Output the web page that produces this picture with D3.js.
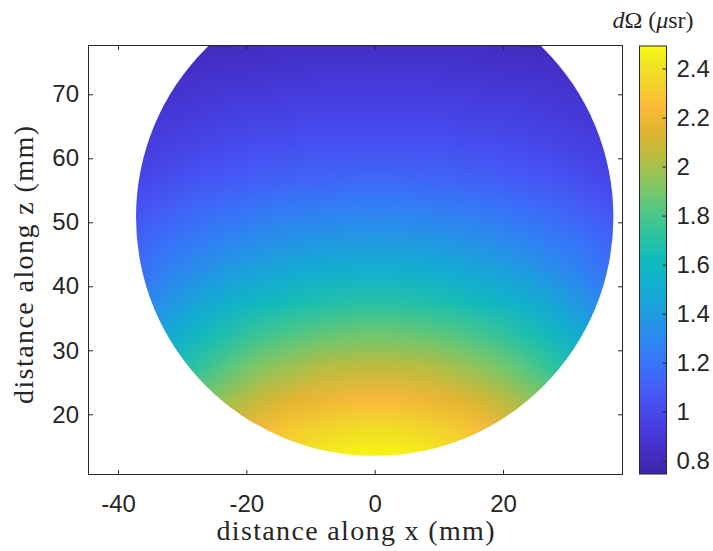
<!DOCTYPE html>
<html>
<head>
<meta charset="utf-8">
<script src="https://cdn.jsdelivr.net/npm/d3@7"></script>
<style>
  body { margin: 0; background: #fff; }
</style>
</head>
<body>
<div id="chart"></div>
<script>
// grid of read-off values, mm
const xCenters = [-37.5, -32.5, -27.5, -22.5, -17.5, -12.5, -7.5, -2.5, 2.5, 7.5, 12.5, 17.5, 22.5, 27.5, 32.5, 37.5];
const zCenters = [77.5, 72.5, 67.5, 62.5, 57.5, 52.5, 47.5, 42.5, 37.5, 32.5, 27.5, 22.5, 17.5, 12.5];
const dOmega = [
  [0.78,0.80,0.81,0.82,0.83,0.84,0.85,0.85,0.85,0.85,0.84,0.83,0.82,0.81,0.80,0.78],
  [0.83,0.85,0.87,0.88,0.89,0.90,0.91,0.91,0.91,0.91,0.90,0.89,0.88,0.87,0.85,0.83],
  [0.87,0.90,0.92,0.94,0.95,0.96,0.97,0.97,0.97,0.97,0.96,0.95,0.94,0.92,0.90,0.87],
  [0.92,0.95,0.98,1.00,1.02,1.03,1.04,1.04,1.04,1.04,1.03,1.02,1.00,0.98,0.95,0.92],
  [0.97,1.01,1.05,1.07,1.10,1.11,1.12,1.13,1.13,1.12,1.11,1.10,1.07,1.05,1.01,0.97],
  [1.04,1.09,1.14,1.17,1.20,1.23,1.24,1.25,1.25,1.24,1.23,1.20,1.17,1.14,1.09,1.04],
  [1.11,1.18,1.23,1.28,1.32,1.35,1.37,1.38,1.38,1.37,1.35,1.32,1.28,1.23,1.18,1.11],
  [1.16,1.26,1.33,1.40,1.45,1.49,1.52,1.53,1.53,1.52,1.49,1.45,1.40,1.33,1.26,1.16],
  [1.25,1.36,1.46,1.54,1.60,1.65,1.68,1.70,1.70,1.68,1.65,1.60,1.54,1.46,1.36,1.25],
  [1.35,1.48,1.60,1.69,1.77,1.82,1.86,1.88,1.88,1.86,1.82,1.77,1.69,1.60,1.48,1.35],
  [1.45,1.60,1.73,1.84,1.93,1.99,2.04,2.06,2.06,2.04,1.99,1.93,1.84,1.73,1.60,1.45],
  [1.57,1.74,1.88,1.99,2.09,2.16,2.20,2.23,2.23,2.20,2.16,2.09,1.99,1.88,1.74,1.57],
  [1.65,1.84,1.99,2.12,2.23,2.31,2.36,2.39,2.39,2.36,2.31,2.23,2.12,1.99,1.84,1.65],
  [1.69,1.89,2.07,2.21,2.32,2.41,2.47,2.50,2.50,2.47,2.41,2.32,2.21,2.07,1.89,1.69]
];
const discCenter = [0, 50.8];
const discRadius = 37.2;

const xTicks = [-40, -20, 0, 20];
const zTicks = [20, 30, 40, 50, 60, 70];
const cbTicks = [0.8, 1, 1.2, 1.4, 1.6, 1.8, 2, 2.2, 2.4];
const cLim = [0.746, 2.492];

// parula-ish colormap stops
const parulaPos = [0, 0.06, 0.125, 0.19, 0.25, 0.31, 0.375, 0.44, 0.5, 0.56, 0.62, 0.68, 0.74, 0.8, 0.855, 0.91, 0.965, 1];
const parulaHex = ["#3e26a8", "#4430c8", "#4742e6", "#4659f6", "#3a71fa", "#2d87f0", "#1f9de0", "#12afd0",
                   "#0fbbbb", "#2ec3a0", "#55c880", "#88c660", "#b8bd40", "#e0b430", "#fbb93c", "#f3d22c",
                   "#efe820", "#f9fb14"];

const width = 713, height = 551;
const axLeft = 88, axRight = 623, axTop = 45, axBottom = 475;
const ink = "#262626";
const sans = "'Liberation Sans', Arial, sans-serif";
const serif = "'Liberation Serif', 'Times New Roman', serif";

const svg = d3.select("#chart").append("svg")
  .attr("width", width)
  .attr("height", height);

const x = d3.scaleLinear().domain([-44.68, 38.70]).range([axLeft, axRight]);
const y = d3.scaleLinear().domain([10.52, 77.70]).range([axBottom, axTop]);
const color = d3.scaleLinear()
  .domain(parulaPos.map(p => cLim[0] + p * (cLim[1] - cLim[0])))
  .range(parulaHex)
  .clamp(true);

// heat map image: one canvas pixel per grid cell, smoothed when scaled
const cnv = document.createElement("canvas");
cnv.width = xCenters.length;
cnv.height = zCenters.length;
const ctx = cnv.getContext("2d");
dOmega.forEach((row, i) => {
  row.forEach((v, j) => {
    ctx.fillStyle = color(v);
    ctx.fillRect(j, i, 1, 1);
  });
});

const defs = svg.append("defs");
defs.append("clipPath").attr("id", "axclip")
  .append("rect")
  .attr("x", axLeft).attr("y", axTop)
  .attr("width", axRight - axLeft).attr("height", axBottom - axTop);
defs.append("clipPath").attr("id", "disc")
  .append("circle")
  .attr("cx", x(discCenter[0]))
  .attr("cy", y(discCenter[1]))
  .attr("r", x(discRadius) - x(0));

const half = 2.5;
svg.append("g").attr("clip-path", "url(#axclip)")
  .append("image")
  .attr("clip-path", "url(#disc)")
  .attr("href", cnv.toDataURL())
  .attr("preserveAspectRatio", "none")
  .attr("x", x(xCenters[0] - half))
  .attr("y", y(zCenters[0] + half))
  .attr("width", x(xCenters[xCenters.length - 1] + half) - x(xCenters[0] - half))
  .attr("height", y(zCenters[zCenters.length - 1] - half) - y(zCenters[0] + half));

/*
  Axes
*/
function styleAxis(g) {
  g.select(".domain").remove();
  g.selectAll(".tick line").attr("stroke", ink);
  g.selectAll(".tick text").attr("fill", ink).attr("font-family", sans).attr("font-size", 24);
}

svg.append("g")
  .attr("transform", `translate(0,${axBottom})`)
  .call(d3.axisBottom(x).tickValues(xTicks).tickSizeInner(-5).tickSizeOuter(0).tickPadding(20)
          .tickFormat(d => String(d)))
  .call(styleAxis);

svg.append("g")
  .attr("transform", `translate(0,${axTop})`)
  .call(d3.axisTop(x).tickValues(xTicks).tickSizeInner(-5).tickSizeOuter(0).tickFormat(""))
  .call(styleAxis);

svg.append("g")
  .attr("transform", `translate(${axLeft},0)`)
  .call(d3.axisLeft(y).tickValues(zTicks).tickSizeInner(-5).tickSizeOuter(0).tickPadding(9))
  .call(styleAxis);

svg.append("g")
  .attr("transform", `translate(${axRight},0)`)
  .call(d3.axisRight(y).tickValues(zTicks).tickSizeInner(-5).tickSizeOuter(0).tickFormat(""))
  .call(styleAxis);

svg.append("rect")
  .attr("x", axLeft + 0.5).attr("y", axTop + 0.5)
  .attr("width", axRight - axLeft - 1).attr("height", axBottom - axTop - 1)
  .attr("fill", "none")
  .attr("stroke", ink)
  .attr("stroke-width", 1);

svg.append("text")
  .attr("x", (axLeft + axRight) / 2)
  .attr("y", 540)
  .attr("text-anchor", "middle")
  .attr("font-family", serif)
  .attr("font-size", 28)
  .attr("fill", ink)
  .attr("textLength", 278)
  .attr("lengthAdjust", "spacing")
  .text("distance along x (mm)");

svg.append("text")
  .attr("transform", `translate(33,${(axTop + axBottom) / 2 + 5}) rotate(-90)`)
  .attr("text-anchor", "middle")
  .attr("font-family", serif)
  .attr("font-size", 28)
  .attr("fill", ink)
  .attr("textLength", 278)
  .attr("lengthAdjust", "spacing")
  .text("distance along z (mm)");

/*
  Colorbar
*/
const cbLeft = 639.5, cbRight = 666.5, cbTop = 46, cbBottom = 474;
const cbY = d3.scaleLinear().domain(cLim).range([cbBottom, cbTop]);

const grad = defs.append("linearGradient")
  .attr("id", "cbgrad")
  .attr("x1", 0).attr("y1", 1).attr("x2", 0).attr("y2", 0);
grad.selectAll("stop")
  .data(parulaPos)
  .enter()
  .append("stop")
  .attr("offset", d => d)
  .attr("stop-color", (d, i) => parulaHex[i]);

svg.append("rect")
  .attr("x", cbLeft).attr("y", cbTop)
  .attr("width", cbRight - cbLeft).attr("height", cbBottom - cbTop)
  .attr("fill", "url(#cbgrad)")
  .attr("stroke", ink)
  .attr("stroke-width", 1);

svg.append("g")
  .attr("transform", `translate(${cbRight},0)`)
  .call(d3.axisRight(cbY).tickValues(cbTicks).tickSizeInner(-4).tickSizeOuter(0).tickPadding(10)
          .tickFormat(d => String(d)))
  .call(styleAxis);

const title = svg.append("text")
  .attr("x", (cbLeft + cbRight) / 2)
  .attr("y", 28)
  .attr("text-anchor", "middle")
  .attr("font-family", serif)
  .attr("font-size", 24)
  .attr("fill", ink);
title.append("tspan").attr("font-style", "italic").text("d");
title.append("tspan").text("\u03A9 (");
title.append("tspan").attr("font-style", "italic").text("\u03BC");
title.append("tspan").text("sr)");
</script>
</body>
</html>
